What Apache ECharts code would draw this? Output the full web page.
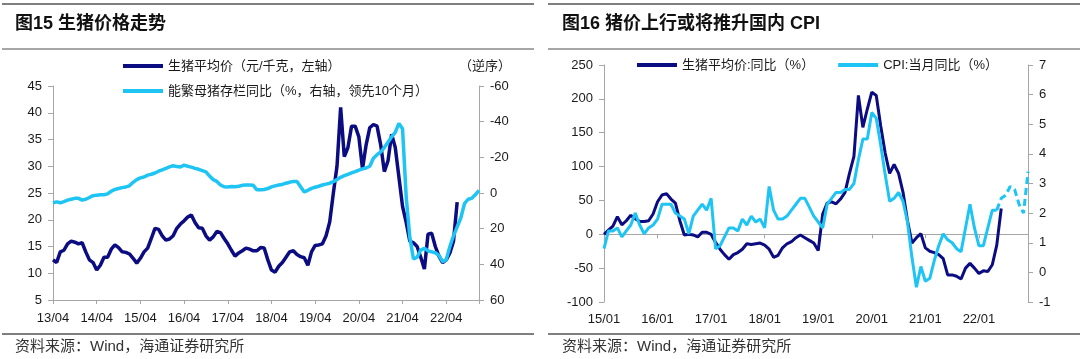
<!DOCTYPE html>
<html><head><meta charset="utf-8">
<script src="https://cdn.jsdelivr.net/npm/echarts@6/dist/echarts.min.js"></script>
<style>html,body{margin:0;padding:0;background:#fff}#c{width:1080px;height:359px}</style>
</head><body><div id="c"></div>
<script>
// ---------- Data ----------
// Left chart: monthly, index 0 = 2013/04
const pigPrice = [12.5, 12, 14, 14.3, 15.5, 16, 15.8, 15.5, 15.7, 14, 12.5, 12,
 10.6, 11.5, 13, 13, 14.5, 15.3, 14.8, 14, 13.9, 13.6, 12.8, 11.9,
 12.8, 14, 14.7, 16.5, 18.4, 18.2, 17, 16.2, 16.4, 17, 18.4, 19.2,
 19.8, 20.5, 20.9, 19.5, 18.5, 18.4, 17, 16.2, 16.8, 17.8, 17.6, 16.5,
 15.5, 14.3, 13.2, 13.8, 14.2, 14.7, 14.5, 14.2, 14.2, 14.8, 14.7, 12.5,
 10.6, 10.2, 11.3, 12, 13, 14, 14.2, 13.5, 13.1, 12.9, 11.5, 14,
 15.2, 15.3, 15.5, 17, 19.6, 25, 30, 41, 31.8, 33.5, 37.5, 37.5,
 35.5, 29.5, 34, 37.2, 37.8, 37.5, 34, 29, 31, 36, 33.5, 28,
 22.5, 19.5, 16, 15.7, 15, 13, 10.8, 17.3, 17.5, 15, 13.2, 12,
 12.5, 13.8, 16, 23.3];
const sowYoY = [5.5, 5, 5.5, 4.8, 4, 3.5, 3, 3, 4, 3.5, 2.5, 1.5,
 1.2, 1, 1, 0.5, -1, -2, -2.5, -3, -3.4, -4, -6, -7.5,
 -8.5, -9, -10, -10.5, -11.2, -12.2, -13, -13.8, -14.6, -15.3, -14.8, -14.6,
 -15.6, -15, -14.5, -13.8, -13.3, -12.5, -11.8, -9.5, -7.5, -6.5, -4.5, -3.5,
 -3.4, -3.6, -3.5, -3.8, -4.3, -4.5, -4.5, -4.3, -1.8, -1.8, -2, -2.5,
 -3.4, -4, -4.5, -4.8, -5.5, -6, -6.5, -6.5, -3.5, -0.6, -1.5, -2.6,
 -3.2, -3.8, -4.5, -5, -5.5, -6.4, -7.5, -8.8, -9.7, -10.5, -11.3, -12,
 -12.8, -13.5, -14, -15, -19.5, -21.5, -23, -25.5, -28.5, -31.5, -34, -39,
 -36, 2, 25, 37, 36, 32, 31, 32.5, 33, 33.5, 35, 38.5,
 37.5, 30, 24, 19, 14, 6, 3.5, 3, 1, -1.5];
const leftXLabels = ['13/04','14/04','15/04','16/04','17/04','18/04','19/04','20/04','21/04','22/04'];

// Right chart: monthly, index 0 = 2015/01
const pigYoY = [0, 6, 12, 26, 14, 20, 28, 23, 19, 19, 20, 30,
 48, 58, 60, 52, 46, 20, -1, 0, -1, -4, 3, 3,
 0, -12, -22, -30, -37, -30, -27, -22, -14, -15, -14, -13,
 -16, -22, -34, -31, -20, -14, -11, -5, -1, -5, -9, -13,
 -24, 30, 46, 48, 45, 52, 62, 90, 115, 205, 158, 185,
 210, 205, 160, 120, 90, 103, 90, 62, 20, -13, -5, 1,
 -20, -25, -27, -30, -36, -60, -60, -62, -66, -50, -43, -50,
 -58, -54, -55, -45, -16, 38];
const cpi = [0.8, 1.4, 1.4, 1.5, 1.2, 1.4, 1.6, 2.0, 1.6, 1.3, 1.5, 1.6,
 1.8, 2.3, 2.3, 2.3, 2.0, 1.9, 1.8, 1.3, 1.9, 2.1, 2.3, 2.1,
 2.5, 0.8, 0.9, 1.2, 1.5, 1.5, 1.4, 1.8, 1.6, 1.9, 1.7, 1.8,
 1.5, 2.9, 2.1, 1.8, 1.8, 1.9, 2.1, 2.3, 2.5, 2.5, 2.2, 1.9,
 1.7, 1.5, 2.3, 2.5, 2.7, 2.7, 2.8, 2.8, 3.0, 3.8, 4.5, 4.5,
 5.4, 5.2, 4.3, 3.3, 2.4, 2.5, 2.7, 2.4, 1.7, 0.5, -0.5, 0.2,
 -0.3, -0.2, 0.4, 0.9, 1.3, 1.1, 1.0, 0.8, 0.7, 1.5, 2.3, 1.5,
 0.9, 0.9, 1.5, 2.1, 2.1];
const cpiFcstStart = 88;
const cpiFcst = [2.1, 2.5, 2.6, 2.9, 2.8, 2.3, 2.0, 3.4];
const rightXLabels = ['15/01','16/01','17/01','18/01','19/01','20/01','21/01','22/01'];

const names = {
  price: '生猪平均价（元/千克，左轴）',
  sow: '能繁母猪存栏同比（%，右轴，领先10个月）',
  pigYoY: '生猪平均价:同比（%）',
  cpi: 'CPI:当月同比（%）'
};

// ---------- Styling ----------
const NAVY = '#0b0b82';
const CYAN = '#1ec4f3';
const AX = '#a6a6a6';
const TXT = '#1a1a1a';
const FONT = "'Liberation Sans','Noto Sans CJK SC',sans-serif";

const pairs = (arr, start) => arr.map((v, i) => [i + (start || 0), v]);

function yAxis(gridIndex, position, min, max, interval, extra) {
  return Object.assign({
    type: 'value', gridIndex, position, min, max, interval,
    splitLine: { show: false },
    axisLine: { show: true, onZero: false, lineStyle: { color: AX, width: 1 } },
    axisTick: { show: true, length: 5, lineStyle: { color: AX } },
    axisLabel: { color: TXT, fontSize: 13, fontFamily: FONT, margin: 11 }
  }, extra || {});
}

const chart = echarts.init(document.getElementById('c'), null, { renderer: 'canvas' });

const option = {
  animation: false,
  backgroundColor: '#fff',
  textStyle: { fontFamily: FONT },
  grid: [
    { left: 53, top: 86, width: 426, height: 214 },
    { left: 604, top: 65, width: 424, height: 237 }
  ],
  xAxis: [
    { type: 'value', gridIndex: 0, min: 0, max: 117, interval: 12, position: 'bottom',
      splitLine: { show: false },
      axisLine: { onZero: false, lineStyle: { color: AX, width: 1 } },
      axisTick: { length: 4, lineStyle: { color: AX } },
      axisLabel: { color: TXT, fontSize: 13, fontFamily: FONT, margin: 12,
        formatter: v => leftXLabels[Math.round(v / 12)] || '' } },
    { type: 'value', gridIndex: 1, min: 0, max: 95, interval: 12, position: 'bottom',
      splitLine: { show: false },
      axisLine: { show: false, onZero: false },
      axisTick: { show: false },
      axisLabel: { color: TXT, fontSize: 13, fontFamily: FONT, margin: 11,
        formatter: v => rightXLabels[Math.round(v / 12)] || '' } },
    { type: 'value', gridIndex: 1, min: 0, max: 95, interval: 12, position: 'top',
      splitLine: { show: false },
      axisLine: { show: true, onZero: true, onZeroAxisIndex: 2, lineStyle: { color: AX, width: 1 } },
      axisTick: { show: true, inside: true, length: 4, lineStyle: { color: AX } },
      axisLabel: { show: false } }
  ],
  yAxis: [
    yAxis(0, 'left', 5, 45, 5),
    yAxis(0, 'right', -60, 60, 20, { inverse: true }),
    yAxis(1, 'left', -100, 250, 50),
    yAxis(1, 'right', -1, 7, 1)
  ],
  legend: [
    { data: [names.price, names.sow], orient: 'vertical', left: 118, top: 54,
      icon: 'rect', itemWidth: 40, itemHeight: 4, itemGap: 11,
      textStyle: { color: TXT, fontSize: 13, fontFamily: FONT, lineHeight: 14 } },
    { data: [names.pigYoY, names.cpi], orient: 'horizontal', left: 632, top: 53,
      icon: 'rect', itemWidth: 40, itemHeight: 4, itemGap: 24,
      textStyle: { color: TXT, fontSize: 13, fontFamily: FONT, lineHeight: 14 } }
  ],
  series: [
    { name: names.price, type: 'line', xAxisIndex: 0, yAxisIndex: 0, data: pairs(pigPrice),
      showSymbol: false, symbol: 'none', color: NAVY, lineStyle: { color: NAVY, width: 3.5 } },
    { name: names.sow, type: 'line', xAxisIndex: 0, yAxisIndex: 1, data: pairs(sowYoY),
      showSymbol: false, symbol: 'none', color: CYAN, lineStyle: { color: CYAN, width: 3.5 } },
    { name: names.pigYoY, type: 'line', xAxisIndex: 1, yAxisIndex: 2, data: pairs(pigYoY),
      showSymbol: false, symbol: 'none', color: NAVY, lineStyle: { color: NAVY, width: 3 } },
    { name: names.cpi, type: 'line', xAxisIndex: 1, yAxisIndex: 3, data: pairs(cpi),
      showSymbol: false, symbol: 'none', color: CYAN, lineStyle: { color: CYAN, width: 3 } },
    { name: 'CPI预测', type: 'line', xAxisIndex: 1, yAxisIndex: 3, data: pairs(cpiFcst, cpiFcstStart),
      showSymbol: false, symbol: 'none', color: CYAN, lineStyle: { color: CYAN, width: 3, type: [7, 4] } }
  ],
  graphic: [
    { type: 'line', shape: { x1: 2, y1: 4, x2: 534, y2: 4 }, style: { stroke: '#555', lineWidth: 1.5 } },
    { type: 'line', shape: { x1: 2, y1: 49, x2: 534, y2: 49 }, style: { stroke: '#888', lineWidth: 1.5 } },
    { type: 'line', shape: { x1: 2, y1: 334, x2: 534, y2: 334 }, style: { stroke: '#555', lineWidth: 1.5 } },
    { type: 'line', shape: { x1: 548, y1: 4, x2: 1080, y2: 4 }, style: { stroke: '#555', lineWidth: 1.5 } },
    { type: 'line', shape: { x1: 548, y1: 49, x2: 1080, y2: 49 }, style: { stroke: '#888', lineWidth: 1.5 } },
    { type: 'line', shape: { x1: 548, y1: 334, x2: 1080, y2: 334 }, style: { stroke: '#555', lineWidth: 1.5 } },
    { type: 'text', style: { x: 15, y: 24, text: '图15 生猪价格走势', font: "bold 18px " + FONT, fill: '#111',
      textVerticalAlign: 'middle', verticalAlign: 'middle' } },
    { type: 'text', style: { x: 562, y: 24, text: '图16 猪价上行或将推升国内 CPI', font: "bold 18px " + FONT, fill: '#111',
      textVerticalAlign: 'middle', verticalAlign: 'middle' } },
    { type: 'text', style: { x: 15, y: 347, text: '资料来源：Wind，海通证券研究所', font: "15px " + FONT, fill: '#333',
      textVerticalAlign: 'middle', verticalAlign: 'middle' } },
    { type: 'text', style: { x: 562, y: 347, text: '资料来源：Wind，海通证券研究所', font: "15px " + FONT, fill: '#333',
      textVerticalAlign: 'middle', verticalAlign: 'middle' } },
    { type: 'text', style: { x: 459, y: 66, text: '（逆序）', font: "13px " + FONT, fill: TXT,
      textVerticalAlign: 'middle', verticalAlign: 'middle' } }
  ]
};
chart.setOption(option);
</script>
</body></html>
